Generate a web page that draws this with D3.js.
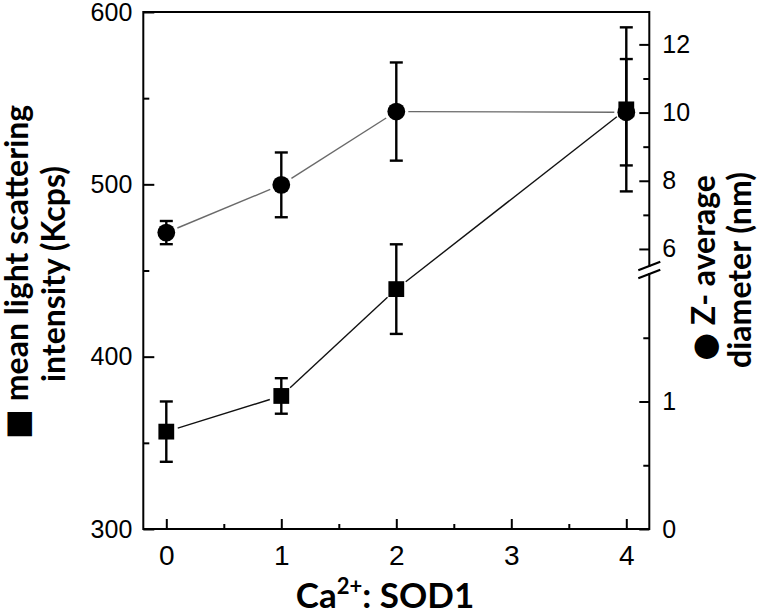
<!DOCTYPE html>
<html>
<head>
<meta charset="utf-8">
<script src="https://cdn.jsdelivr.net/npm/d3@7"></script>
<style>
  html, body { margin: 0; padding: 0; background: #fff; }
  svg { display: block; }
  .tick text { font-family: "Liberation Sans", Arial, sans-serif; fill: #000; }
  .ttl { font-family: Lato, "Open Sans", sans-serif; font-weight: 700; fill: #000; }
</style>
</head>
<body>
<svg id="chart" width="760" height="614"></svg>
<script>
// ---- data ----
const ratios = [0, 1, 2, 4];                       // Ca2+ : SOD1
const intensity = [356.5, 377.2, 439.2, 543.5];    // mean light scattering intensity (Kcps)
const intensityErr = [17.5, 10.3, 26.0, 47.6];
const diameter = [6.48, 7.88, 10.03, 10.01];       // Z-average diameter (nm)
const diameterErr = [0.34, 0.95, 1.44, 1.56];

const xTicks = [0, 1, 2, 3, 4];
const xMinorTicks = [0.5, 1.5, 2.5, 3.5];
const leftTicks = [300, 400, 500, 600];
const leftMinorTicks = [350, 450, 550];
const rightTicks = [0, 1, 6, 8, 10, 12];
const rightMinorTicks = [0.5, 1.5, 7, 9, 11];

// ---- layout ----
const L = 143.3, R = 649.3, T = 12, B = 529;
const svg = d3.select("#chart");

const x = d3.scaleLinear().domain([-0.2, 4.2]).range([L, R]);
const yL = d3.scaleLinear().domain([300, 600]).range([B, T]);
// broken right axis: lower part 0–2, upper part 5.5–12.95
const yR = d3.scaleLinear().domain([0, 2, 5.5, 12.95]).range([B, 274, 266, T]);

const sw = 2;

// frame (right side drawn with a break)
svg.append("path")
  .attr("d", `M${R},${yR(5.5)} L${R},${T} L${L},${T} L${L},${B} L${R},${B} L${R},${yR(2)}`)
  .attr("fill", "none").attr("stroke", "#000").attr("stroke-width", sw)
  .attr("stroke-linejoin", "miter").attr("stroke-linecap", "square");

// break marks
[yR(5.5), yR(2)].forEach(yy => {
  svg.append("line")
    .attr("x1", R - 11).attr("y1", yy + 4.2)
    .attr("x2", R + 11).attr("y2", yy - 4.2)
    .attr("stroke", "#000").attr("stroke-width", 2.2);
});

function styleAxis(g) {
  g.select(".domain").remove();
  g.selectAll(".tick line").attr("stroke", "#000").attr("stroke-width", sw);
}

// axes
svg.append("g").attr("transform", `translate(0,${B})`)
  .call(d3.axisBottom(x).tickValues(xTicks).tickFormat(d3.format("d")).tickSize(-10).tickPadding(16))
  .call(styleAxis)
  .call(g => g.selectAll("text").attr("font-size", 28));
svg.append("g").attr("transform", `translate(0,${B})`)
  .call(d3.axisBottom(x).tickValues(xMinorTicks).tickFormat("").tickSize(-5))
  .call(styleAxis);

svg.append("g").attr("transform", `translate(${L},0)`)
  .call(d3.axisLeft(yL).tickValues(leftTicks).tickFormat(d3.format("d")).tickSize(-11).tickPadding(11))
  .call(styleAxis)
  .call(g => g.selectAll("text").attr("font-size", 25));
svg.append("g").attr("transform", `translate(${L},0)`)
  .call(d3.axisLeft(yL).tickValues(leftMinorTicks).tickFormat("").tickSize(-6))
  .call(styleAxis);

svg.append("g").attr("transform", `translate(${R},0)`)
  .call(d3.axisRight(yR).tickValues(rightTicks).tickFormat(d3.format("d")).tickSize(-10).tickPadding(13))
  .call(styleAxis)
  .call(g => g.selectAll("text").attr("font-size", 25));
svg.append("g").attr("transform", `translate(${R},0)`)
  .call(d3.axisRight(yR).tickValues(rightMinorTicks).tickFormat("").tickSize(-6))
  .call(styleAxis);

// ---- series ----
const gap = 12;
function connector(xs, ys, color) {
  for (let i = 0; i < xs.length - 1; i++) {
    const x1 = xs[i], y1 = ys[i], x2 = xs[i + 1], y2 = ys[i + 1];
    const dx = x2 - x1, dy = y2 - y1, len = Math.hypot(dx, dy);
    const ux = dx / len, uy = dy / len;
    svg.append("line")
      .attr("x1", x1 + ux * gap).attr("y1", y1 + uy * gap)
      .attr("x2", x2 - ux * gap).attr("y2", y2 - uy * gap)
      .attr("stroke", color).attr("stroke-width", 1.4);
  }
}
function errorBars(xs, lo, hi) {
  const cap = 6.5;
  xs.forEach((xx, i) => {
    const g = svg.append("g").attr("stroke", "#000").attr("stroke-width", 2.4);
    g.append("line").attr("x1", xx).attr("x2", xx).attr("y1", lo[i]).attr("y2", hi[i]);
    g.append("line").attr("x1", xx - cap).attr("x2", xx + cap).attr("y1", lo[i]).attr("y2", lo[i]);
    g.append("line").attr("x1", xx - cap).attr("x2", xx + cap).attr("y1", hi[i]).attr("y2", hi[i]);
  });
}

const px = ratios.map(d => x(d));
const sqY = intensity.map(d => yL(d));
const ciY = diameter.map(d => yR(d));

connector(px, ciY, "#6a6a6a");
connector(px, sqY, "#111");

errorBars(px, intensity.map((d, i) => yL(d - intensityErr[i])), intensity.map((d, i) => yL(d + intensityErr[i])));
errorBars(px, diameter.map((d, i) => yR(d - diameterErr[i])), diameter.map((d, i) => yR(d + diameterErr[i])));

const half = 7.9;
svg.selectAll("rect.sq").data(ratios).join("rect").attr("class", "sq")
  .attr("x", (d, i) => px[i] - half).attr("y", (d, i) => sqY[i] - half)
  .attr("width", half * 2).attr("height", half * 2).attr("fill", "#000");
svg.selectAll("circle.ci").data(ratios).join("circle").attr("class", "ci")
  .attr("cx", (d, i) => px[i]).attr("cy", (d, i) => ciY[i]).attr("r", 8.9).attr("fill", "#000");

// ---- titles ----
const lt = svg.append("text").attr("class", "ttl").attr("font-size", 32)
  .attr("text-anchor", "middle").attr("transform", "translate(28,272) rotate(-90)");
lt.append("tspan").attr("font-family", "DejaVu Sans").attr("font-weight", 400).text("■");
lt.append("tspan").text(" mean light scattering");
svg.append("text").attr("class", "ttl").attr("font-size", 32)
  .attr("text-anchor", "middle").attr("transform", "translate(65,274) rotate(-90)")
  .text("intensity (Kcps)");

const rt = svg.append("text").attr("class", "ttl").attr("font-size", 32)
  .attr("text-anchor", "middle").attr("transform", "translate(715,268) rotate(-90)");
rt.append("tspan").attr("font-family", "DejaVu Sans").attr("font-weight", 400).text("●");
rt.append("tspan").text(" Z- average");
svg.append("text").attr("class", "ttl").attr("font-size", 32)
  .attr("text-anchor", "middle").attr("transform", "translate(751,270) rotate(-90)")
  .text("diameter (nm)");

const xt = svg.append("text").attr("class", "ttl").attr("font-size", 35)
  .attr("text-anchor", "middle").attr("x", 385).attr("y", 608);
xt.append("tspan").text("Ca");
xt.append("tspan").attr("font-size", 22).attr("dy", -14).text("2+");
xt.append("tspan").attr("dy", 14).text(": SOD1");
</script>
</body>
</html>
